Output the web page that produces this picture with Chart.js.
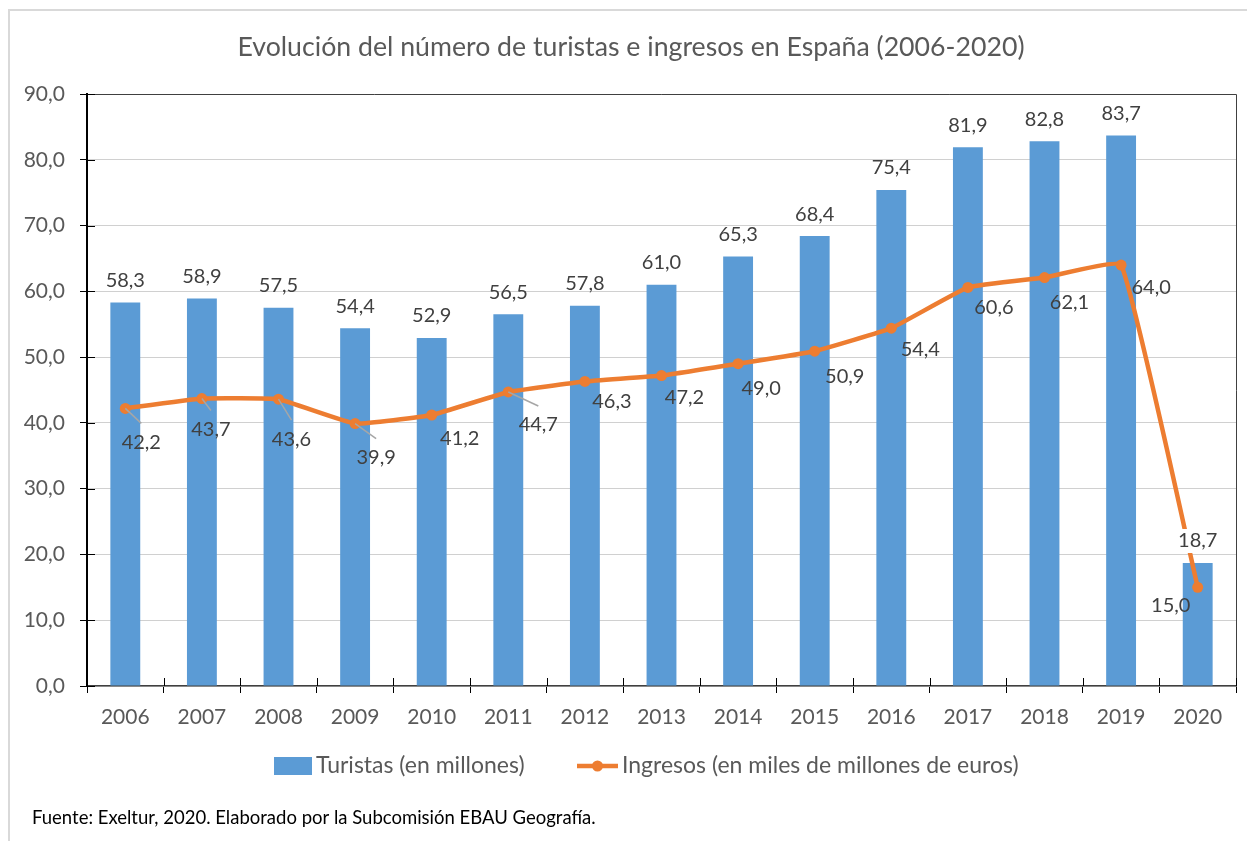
<!DOCTYPE html>
<html>
<head>
<meta charset="utf-8">
<script src="https://cdn.jsdelivr.net/npm/chart.js@4.4.0/dist/chart.umd.min.js"></script>
<style>
  html, body { margin: 0; padding: 0; background: #fff; }
  canvas { display: block; }
</style>
</head>
<body>
<canvas id="chart" width="1247" height="841"></canvas>
<script>
const years = ['2006', '2007', '2008', '2009', '2010', '2011', '2012', '2013', '2014', '2015', '2016', '2017', '2018', '2019', '2020']
const turistas = [58.3, 58.9, 57.5, 54.4, 52.9, 56.5, 57.8, 61.0, 65.3, 68.4, 75.4, 81.9, 82.8, 83.7, 18.7]
const ingresos = [42.2, 43.7, 43.6, 39.9, 41.2, 44.7, 46.3, 47.2, 49.0, 50.9, 54.4, 60.6, 62.1, 64.0, 15.0]
const yMin = 0
const yMax = 90
const yStep = 10

const title = 'Evolución del número de turistas e ingresos en España (2006-2020)'
const legendBar = 'Turistas (en millones)'
const legendLine = 'Ingresos (en miles de millones de euros)'
const footer = 'Fuente: Exeltur, 2020. Elaborado por la Subcomisión EBAU Geografía.'

// where each ingresos label sits, relative to its point (px)
const ingresosLabelOffset = [[16, 34], [9, 31], [13, 40], [21, 34], [28, 24], [30, 33], [27, 20],
  [23, 22], [23, 25], [30, 25], [29, 21], [26, 20], [25, 25], [30, 23], [-27, 18]]

const FONT = 'Lato, "Open Sans", sans-serif'
const BLUE = '#5B9BD5'
const ORANGE = '#ED7D31'
const fmt = (v) => v.toFixed(1).replace('.', ',')

const decor = {
  id: 'decor',
  beforeDraw(chart) {
    const { ctx } = chart
    ctx.save()
    ctx.fillStyle = '#fff'
    ctx.fillRect(0, 0, chart.width, chart.height)
    ctx.strokeStyle = '#d9d9d9'
    ctx.lineWidth = 2
    ctx.beginPath()
    ctx.moveTo(9, chart.height)
    ctx.lineTo(9, 10)
    ctx.lineTo(chart.width, 10)
    ctx.stroke()
    ctx.fillStyle = '#595959'
    ctx.font = `26.7px ${FONT}`
    ctx.textAlign = 'center'
    ctx.textBaseline = 'alphabetic'
    ctx.fillText(title, 631, 56)
    ctx.restore()
  },
  afterDatasetsDraw(chart) {
    const { ctx } = chart
    const barMeta = chart.getDatasetMeta(0)
    const lineMeta = chart.getDatasetMeta(1)
    ctx.save()
    ctx.font = `20px ${FONT}`
    ctx.textAlign = 'center'
    ctx.textBaseline = 'middle'
    lineMeta.data.forEach((pt, i) => {
      const [dx, dy] = ingresosLabelOffset[i]
      const cx = pt.x + dx
      const cy = pt.y + dy
      if (dy >= 28) {
        ctx.strokeStyle = '#a6a6a6'
        ctx.lineWidth = 1.5
        ctx.beginPath()
        ctx.moveTo(pt.x, pt.y)
        ctx.lineTo(cx, cy - 19)
        ctx.stroke()
      }
      ctx.fillStyle = '#404040'
      ctx.fillText(fmt(ingresos[i]), cx, cy)
    })
    barMeta.data.forEach((bar, i) => {
      const text = fmt(turistas[i])
      const cy = bar.y - 22
      // the line crosses this label: give it a white box
      if (i > 0 && ingresos[i - 1] > turistas[i]) {
        const w = ctx.measureText(text).width + 14
        ctx.fillStyle = '#fff'
        ctx.fillRect(bar.x - w / 2, cy - 12, w, 24)
      }
      ctx.fillStyle = '#404040'
      ctx.fillText(text, bar.x, cy)
    })
    ctx.restore()
  },
  afterDraw(chart) {
    const { ctx, chartArea: area } = chart
    const xScale = chart.scales.x
    const yScale = chart.scales.y
    ctx.save()
    // plot frame top / right
    ctx.strokeStyle = '#404040'
    ctx.lineWidth = 1
    ctx.beginPath()
    ctx.moveTo(area.left, area.top + 0.5)
    ctx.lineTo(area.right + 0.5, area.top + 0.5)
    ctx.lineTo(area.right + 0.5, area.bottom)
    ctx.stroke()
    // inner half of the tick marks
    ctx.strokeStyle = '#000'
    ctx.beginPath()
    yScale.ticks.forEach((t) => {
      const y = Math.round(yScale.getPixelForValue(t.value)) + 0.5
      ctx.moveTo(area.left, y)
      ctx.lineTo(area.left + 8, y)
    })
    const w = (xScale.right - xScale.left) / years.length
    for (let i = 0; i <= years.length; i += 1) {
      const x = Math.round(xScale.left + i * w) + 0.5
      ctx.moveTo(x, area.bottom)
      ctx.lineTo(x, area.bottom - 8)
    }
    ctx.stroke()
    // legend
    const ly = 766
    ctx.fillStyle = BLUE
    ctx.fillRect(274, ly - 9, 38, 18)
    ctx.strokeStyle = ORANGE
    ctx.lineWidth = 4.5
    ctx.beginPath()
    ctx.moveTo(577, ly)
    ctx.lineTo(618, ly)
    ctx.stroke()
    ctx.fillStyle = ORANGE
    ctx.beginPath()
    ctx.arc(597.5, ly, 5.5, 0, Math.PI * 2)
    ctx.fill()
    ctx.fillStyle = '#595959'
    ctx.font = `23px ${FONT}`
    ctx.textAlign = 'left'
    ctx.textBaseline = 'middle'
    ctx.fillText(legendBar, 316, ly)
    ctx.fillText(legendLine, 622, ly)
    // source note
    ctx.fillStyle = '#000'
    ctx.font = `18.5px ${FONT}`
    ctx.fillText(footer, 32, 818)
    ctx.restore()
  },
}

new Chart(document.getElementById('chart'), {
  data: {
    labels: years,
    datasets: [
      {
        type: 'bar',
        label: legendBar,
        data: turistas,
        backgroundColor: BLUE,
        barPercentage: 0.39,
        categoryPercentage: 1,
        order: 1,
      },
      {
        type: 'line',
        label: legendLine,
        data: ingresos,
        borderColor: ORANGE,
        borderWidth: 4.5,
        pointRadius: 5.5,
        pointBackgroundColor: ORANGE,
        pointBorderWidth: 0,
        tension: 0.1,
        order: 0,
      },
    ],
  },
  options: {
    responsive: false,
    animation: false,
    devicePixelRatio: 1,
    layout: { padding: { top: 94, right: 11, bottom: 105, left: 0 } },
    plugins: {
      legend: { display: false },
      title: { display: false },
      tooltip: { enabled: false },
    },
    scales: {
      x: {
        offset: true,
        grid: { display: true, drawOnChartArea: false, offset: true, tickLength: 7, color: '#000', tickColor: '#000' },
        border: { color: '#404040', width: 1.5 },
        ticks: { color: '#595959', font: { family: FONT, size: 21 }, padding: 12 },
        afterFit(scale) { scale.height = 50 },
      },
      y: {
        min: yMin,
        max: yMax,
        grid: { color: '#d0d0d0', tickLength: 7, tickColor: '#000' },
        border: { color: '#000', width: 2 },
        ticks: { stepSize: yStep, color: '#595959', font: { family: FONT, size: 21 }, padding: 15, callback: (v) => fmt(v) },
        afterFit(scale) { scale.width = 87 },
      },
    },
  },
  plugins: [decor],
})
</script>
</body>
</html>
